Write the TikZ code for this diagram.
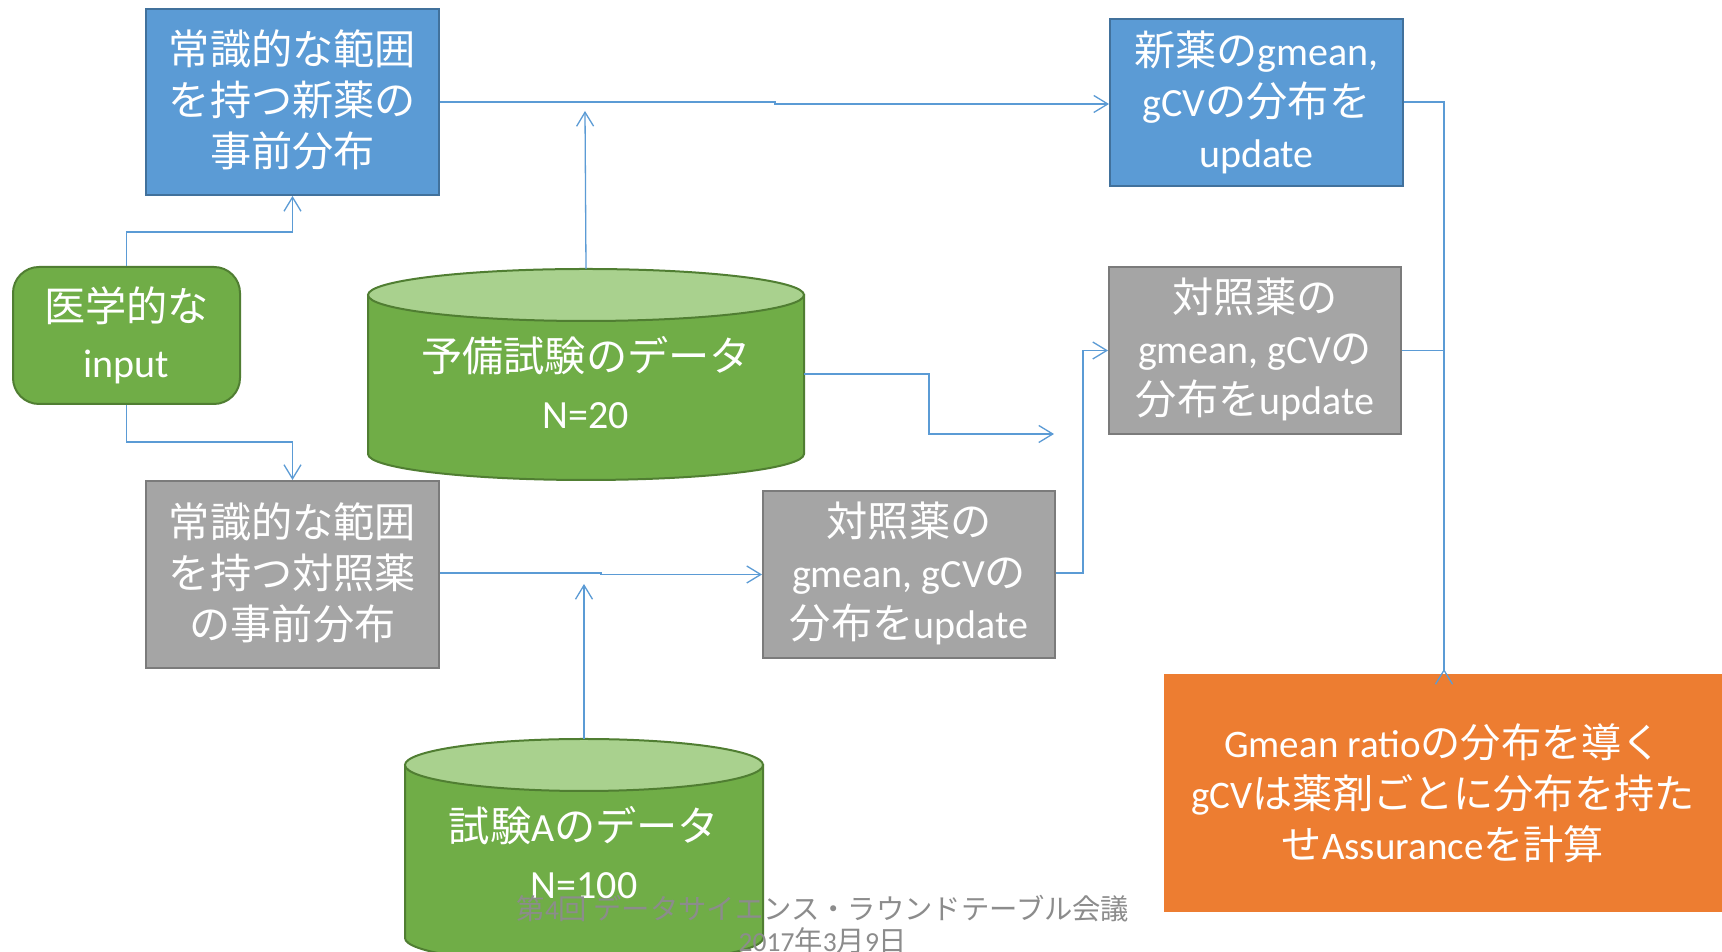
\documentclass[tikz,border=0pt]{standalone}
\usepackage{fontspec}
\setmainfont{Carlito}
\newfontfamily\jpf[Scale=1.03]{Noto Sans CJK JP}
\newcommand\jp[1]{{\jpf #1}}
\usetikzlibrary{arrows.meta}
\definecolor{bluefill}{HTML}{5B9BD5}
\definecolor{blueline}{HTML}{41719C}
\definecolor{grayfill}{HTML}{A5A5A5}
\definecolor{grayline}{HTML}{7B7B7B}
\definecolor{greenfill}{HTML}{70AD47}
\definecolor{greenline}{HTML}{507E32}
\definecolor{greentop}{HTML}{A9D18E}
\definecolor{orangefill}{HTML}{ED7D31}
\definecolor{conn}{HTML}{5B9BD5}
\definecolor{footgray}{HTML}{8C8C8C}
\tikzset{
  box/.style={draw, line width=2pt, inner sep=0pt, align=center, text=white,
    font=\fontsize{40}{51}\selectfont},
  bluebox/.style={box, fill=bluefill, draw=blueline},
  graybox/.style={box, fill=grayfill, draw=grayline},
  greenbox/.style={box, fill=greenfill, draw=greenline, rounded corners=26pt,
    font=\fontsize{40}{56}\selectfont},
  orangebox/.style={box, fill=orangefill, draw=none, font=\fontsize{39}{51}\selectfont},
  cyltext/.style={align=center, text=white, font=\fontsize{40}{57}\selectfont},
  cylbody/.style={fill=greenfill, draw=greenline, line width=2pt},
  cyltop/.style={fill=greentop, draw=greenline, line width=2pt},
  link/.style={draw=conn, line width=1.3pt, -{Straight Barb[length=14pt,width=17pt,line width=1.3pt]}},
  plain/.style={draw=conn, line width=1.3pt},
  foot/.style={align=center, text=footgray, font=\fontsize{27.5}{32}\selectfont}
}
\begin{document}
\begin{tikzpicture}[x=1pt,y=1pt]
\useasboundingbox (0,0) rectangle (1722,952);
\fill[white] (0,0) rectangle (1722,952);

% cylinder 1
\fill[cylbody] (368,657) -- (368,498) arc (180:360:218 and 26) -- (804,657) -- cycle;
\draw[cyltop] (586,657) ellipse (218 and 26);
\coordinate (c1top) at (586,683);
\coordinate (c1right) at (804,578);
\node[cyltext] (c1) at (586,569) {\jp{予備試験のデータ}\\N=20};

% cylinder 2
\fill[cylbody] (405,187) -- (405,14) arc (180:360:179 and 26) -- (763,187) -- cycle;
\draw[cyltop] (584,187) ellipse (179 and 26);
\coordinate (c2top) at (584,213);
\node[cyltext] (c2) at (584,99) {\jp{試験}A\jp{のデータ}\\N=100};

% boxes
\node[bluebox, minimum width=293pt, minimum height=186pt] (b1) at (292.5,850)
  {\jp{常識的な範囲}\\\jp{を持つ新薬の}\\\jp{事前分布}\rule{0pt}{0pt}\raisebox{0pt}{}\vspace*{4pt}};
\node[greenbox, minimum width=227pt, minimum height=137pt] (in) at (126.5,616.5)
  {\jp{医学的な}\\input};
\node[graybox, minimum width=293pt, minimum height=187pt] (b4) at (292.5,377.5)
  {\jp{常識的な範囲}\\\jp{を持つ対照薬}\\\jp{の事前分布}\vspace*{4pt}};
\node[bluebox, minimum width=293pt, minimum height=167pt] (b5) at (1256.5,849.5)
  {\jp{新薬の}gmean,\\gCV\jp{の分布を}\\update};
\node[graybox, minimum width=292pt, minimum height=167pt] (b6) at (1255,601.5)
  {\jp{対照薬の}\\gmean, gCV\jp{の}\\\jp{分布を}update\vspace*{2pt}};
\node[graybox, minimum width=292pt, minimum height=167pt] (b7) at (909,377.5)
  {\jp{対照薬の}\\gmean, gCV\jp{の}\\\jp{分布を}update\vspace*{2pt}};
\node[orangebox, minimum width=558pt, minimum height=238pt] (or) at (1443,159)
  {Gmean ratio\jp{の分布を導く}\\gCV\jp{は薬剤ごとに分布を持た}\\\jp{せ}Assurance\jp{を計算}};

% free ends
\coordinate (e1) at (585,841);
\coordinate (e2) at (1054,518);
\coordinate (e3) at (584,368);

% connectors
\draw[link] (in.north) -- (126.5,720) -- (292.5,720) -- (b1.south);
\draw[link] (in.south) -- (126.5,510) -- (292.5,510) -- (b4.north);
\draw[link] (b1.east) -- (775,850) -- (775,848) -- (b5.west |- 0,848);
\draw[link] (c1top) -- (e1);
\draw[link] (c1right) -- (929,578) -- (929,518) -- (e2);
\draw[link] (b4.east |- 0,379) -- (601,379) -- (601,377.5) -- (b7.west);
\draw[link] (c2top) -- (e3);
\draw[link] (b7.east |- 0,379) -- (1083,379) -- (1083,601.5) -- (b6.west);
\draw[link] (b5.east |- 0,850) -- (1444,850) -- (1444,282) -- ([yshift=4pt]or.north -| 1444,0);
\draw[plain] (b6.east) -- (1444,601.5);

% footer
\node[foot] (ft) at (823,27) {\jp{第}4\jp{回 データサイエンス・ラウンドテーブル会議}\\2017\jp{年}3\jp{月}9\jp{日}};
\end{tikzpicture}
\end{document}
